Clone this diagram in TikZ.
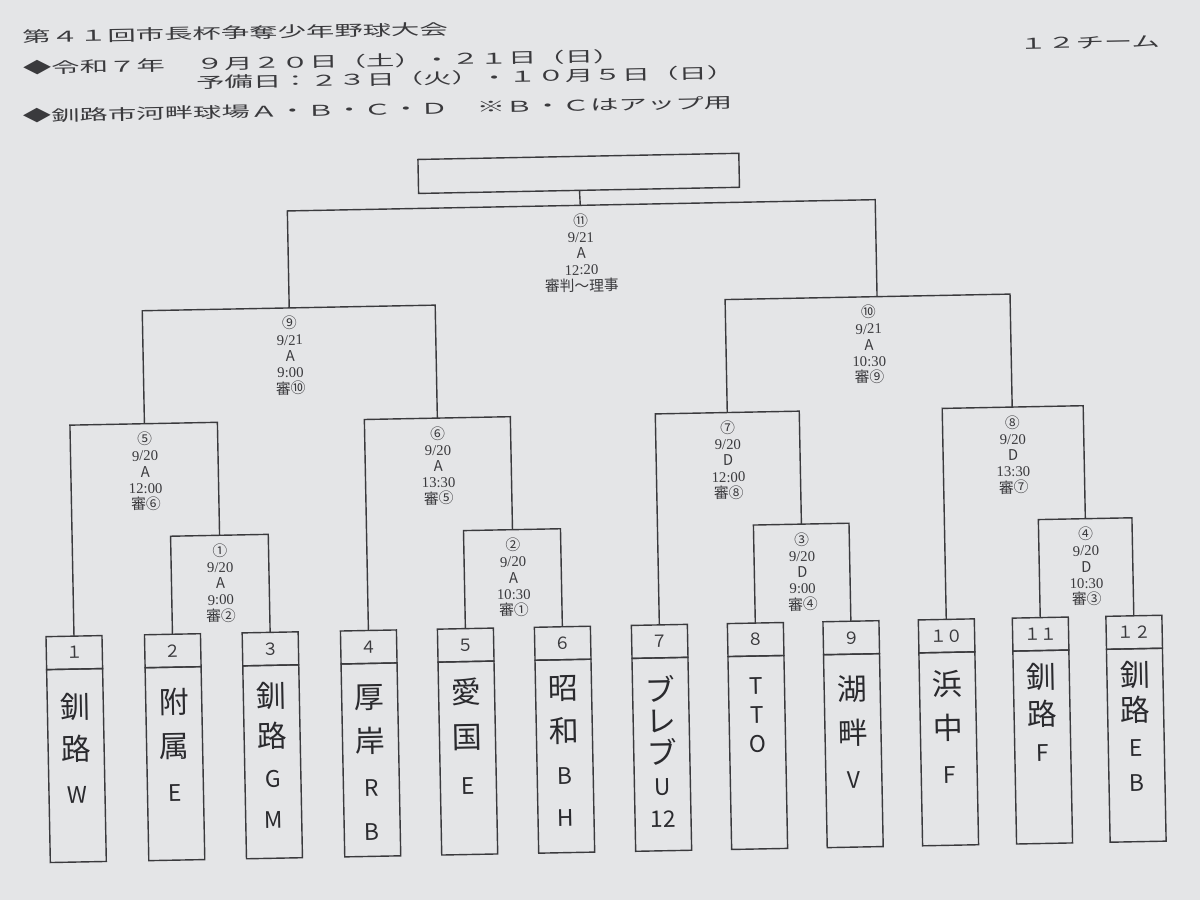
\documentclass[tikz,border=0pt]{standalone}
\usepackage{fontspec}
\setmainfont{Liberation Serif}
\newfontfamily\gothic{Noto Sans CJK JP}
\newfontfamily\gothicwide[FakeStretch=1.9]{Noto Sans CJK JP}
\usetikzlibrary{positioning}
\definecolor{paper}{HTML}{E4E5E7}
\definecolor{ink}{HTML}{3A3A3D}
\definecolor{pencil}{HTML}{2A2A2E}
\newcommand\ltr[1]{{\fontsize{13}{13}\selectfont #1}}

\begin{document}
\begin{tikzpicture}[x=0.02cm,y=-0.02cm,
   header/.style={anchor=west,inner sep=0pt,text=ink,font=\gothicwide\fontsize{8.5}{10.6}\selectfont},
   wire/.style={draw=ink,line width=0.8pt},
   numcell/.style={draw=ink,line width=0.8pt,minimum width=1.12cm,minimum height=0.66cm,
                   inner sep=0pt,outer sep=0pt,text=ink,font=\gothic\fontsize{9.5}{10}\selectfont},
   namecell/.style={draw=ink,line width=0.8pt,minimum width=1.12cm,minimum height=3.86cm,
                    inner sep=0pt,outer sep=0pt},
   finalbox/.style={draw=ink,line width=0.8pt,minimum width=6.42cm,minimum height=0.68cm,
                    inner sep=0pt,outer sep=0pt},
   teamname/.style={align=center,inner sep=0pt,text=pencil,font=\gothic\fontsize{17}{#1}\selectfont},
   info/.style={align=center,inner sep=0pt,text=ink,font=\fontsize{8.4}{9.25}\selectfont}]
  \fill[paper] (0,0) rectangle (1200,900);
  \useasboundingbox (0,0) rectangle (1200,900);
  \begin{scope}[rotate around={1.1:(600,450)},transform shape]
  % encabezado
  \node[header] (title) at (30,26) {第４１回市長杯争奪少年野球大会};
  \node[header] (date1) at (30,57) {◆令和７年};
  \node[header,anchor=north west,align=left] (date2) at (203,49)
    {９月２０日（土）・２１日（日）\\予備日：２３日（火）・１０月５日（日）};
  \node[header] (place) at (29,105) {◆釧路市河畔球場Ａ・Ｂ・Ｃ・Ｄ　※Ｂ・Ｃはアップ用};
  \node[header,anchor=east] (teams) at (1168,52) {１２チーム};
  % cuadro del campeon
  \node[finalbox] (champ) at (584,173) {};
  % puntos de partido
  \coordinate (m1) at (218,528);
  \coordinate (m2) at (511,528);
  \coordinate (m3) at (800,528);
  \coordinate (m4) at (1084,528);
  \coordinate (m5) at (145,415);
  \coordinate (m6) at (438,415);
  \coordinate (m7) at (728,415);
  \coordinate (m8) at (1013,415);
  \coordinate (m9) at (292,302);
  \coordinate (m10) at (871,302);
  \coordinate (s10) at (880,302);
  \coordinate (m11) at (585,205);
  % equipos
  \foreach \i/\x/\no/\dy/\bs/\txt in {
      1/70.5/１/0.48cm/24/{釧\\路\\\ltr{W}},
      2/169/２/0.42cm/25/{附\\属\\\ltr{E}},
      3/266.7/３/0.32cm/23/{釧\\路\\\ltr{G}\\\ltr{M}},
      4/365/４/0.42cm/25/{厚\\岸\\\ltr{R}\\\ltr{B}},
      5/462/５/0.32cm/26/{愛\\国\\\ltr{E}},
      6/559/６/0.32cm/24/{昭\\和\\\ltr{B}\\\ltr{H}},
      7/656/７/0.34cm/18/{ブ\\レ\\ブ\\\ltr{U}\\\ltr{12}},
      8/752/８/0.42cm/16.5/{\ltr{T}\\\ltr{T}\\\ltr{O}},
      9/847.6/９/0.42cm/25/{湖\\畔\\\ltr{V}},
      10/943/１０/0.36cm/25/{浜\\中\\\ltr{F}},
      11/1037/１１/0.24cm/21/{釧\\路\\\ltr{F}},
      12/1130.6/１２/0.24cm/20/{釧\\路\\\ltr{E}\\\ltr{B}}}
  {
    \node[numcell] (n\i) at (\x,642.5) {\no};
    \node[namecell,below=0pt of n\i] (b\i) {};
    \node[teamname=\bs,below=\dy of n\i] (t\i) {\txt};
  }
  % lineas del cuadro
  \draw[wire] (n2.north) |- (m1) -| (n3.north);
  \draw[wire] (n5.north) |- (m2) -| (n6.north);
  \draw[wire] (n8.north) |- (m3) -| (n9.north);
  \draw[wire] (n11.north) |- (m4) -| (n12.north);
  \draw[wire] (n1.north) |- (m5) -| (m1);
  \draw[wire] (n4.north) |- (m6) -| (m2);
  \draw[wire] (n7.north) |- (m7) -| (m3);
  \draw[wire] (n10.north) |- (m8) -| (m4);
  \draw[wire] (m5) |- (m9) -| (m6);
  \draw[wire] (m7) |- (m10) -| (m8);
  \draw[wire] (m9) |- (m11) -| (s10);
  \draw[wire] (m11) -- (champ);
  % datos de cada partido
  \node[info,below=0.16cm of m1] (i1) {{\gothic ①}\\9/20\\{\gothic A}\\9:00\\{\gothic 審②}};
  \node[info,below=0.16cm of m2] (i2) {{\gothic ②}\\9/20\\{\gothic A}\\10:30\\{\gothic 審①}};
  \node[info,below=0.16cm of m3] (i3) {{\gothic ③}\\9/20\\{\gothic D}\\9:00\\{\gothic 審④}};
  \node[info,below=0.16cm of m4] (i4) {{\gothic ④}\\9/20\\{\gothic D}\\10:30\\{\gothic 審③}};
  \node[info,below=0.16cm of m5] (i5) {{\gothic ⑤}\\9/20\\{\gothic A}\\12:00\\{\gothic 審⑥}};
  \node[info,below=0.16cm of m6] (i6) {{\gothic ⑥}\\9/20\\{\gothic A}\\13:30\\{\gothic 審⑤}};
  \node[info,below=0.16cm of m7] (i7) {{\gothic ⑦}\\9/20\\{\gothic D}\\12:00\\{\gothic 審⑧}};
  \node[info,below=0.16cm of m8] (i8) {{\gothic ⑧}\\9/20\\{\gothic D}\\13:30\\{\gothic 審⑦}};
  \node[info,below=0.16cm of m9] (i9) {{\gothic ⑨}\\9/21\\{\gothic A}\\9:00\\{\gothic 審⑩}};
  \node[info,below=0.16cm of m10] (i10) {{\gothic ⑩}\\9/21\\{\gothic A}\\10:30\\{\gothic 審⑨}};
  \node[info,below=0.16cm of m11] (i11) {{\gothic ⑪}\\9/21\\{\gothic A}\\12:20\\{\gothic 審判～理事}};
  \end{scope}
\end{tikzpicture}
\end{document}
